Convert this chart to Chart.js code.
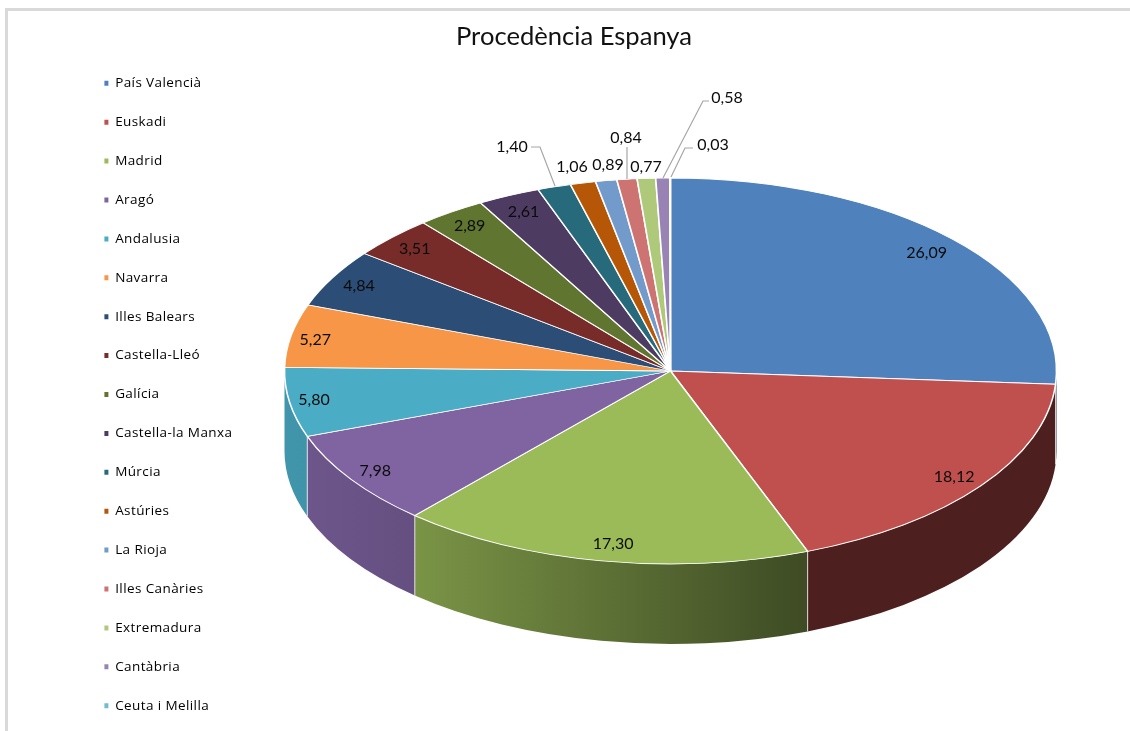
<!DOCTYPE html>
<html><head><meta charset="utf-8">
<style>
html,body{margin:0;padding:0;background:#fff;overflow:hidden}
#wrap{position:absolute;left:0;top:0;width:1130px;height:731px}
#frame{position:absolute;left:5px;top:8px;width:1125px;height:723px;border-top:3px solid #d9d9d9;border-left:3px solid #d9d9d9;box-sizing:border-box;pointer-events:none}
</style>
<script src="https://cdn.jsdelivr.net/npm/chart.js@4"></script>
</head><body>
<div id="wrap"><canvas id="c" width="1130" height="731"></canvas><div id="frame"></div></div>
<script>
const categories = ["País Valencià","Euskadi","Madrid","Aragó","Andalusia","Navarra","Illes Balears","Castella-Lleó","Galícia","Castella-la Manxa","Múrcia","Astúries","La Rioja","Illes Canàries","Extremadura","Cantàbria","Ceuta i Melilla"];
const values = [26.09,18.12,17.30,7.98,5.80,5.27,4.84,3.51,2.89,2.61,1.40,1.06,0.89,0.84,0.77,0.58,0.03];
const colors = ["#4f81bd","#c0504d","#9bbb59","#8064a2","#4bacc6","#f79646","#2c4d75","#772c2a","#5f7530","#4d3b62","#276a7c","#b65708","#729aca","#cd7371","#afc97a","#9983b5","#6fbdd1"];
const titleText = "Procedència Espanya";
const FONT = "Lato";
const LEGEND_FONT = "'Open Sans'";

// Pseudo-3D projection of the library's pie
const PROJ = {cx:670.5, cy:371, rx:386, ry:193, depth:80};
// Outside labels: index -> label centre and optional leader line
const OUTSIDE = {
  10:{x:512,y:147,leader:[[531,147],[540,147],[555,186]]},
  11:{x:572,y:167},
  12:{x:608,y:165},
  13:{x:626,y:138,leader:[[627,147],[627,179]]},
  14:{x:646,y:167},
  15:{x:727,y:98,leader:[[709,101],[703,101],[663,178]]},
  16:{x:713,y:145,leader:[[693,148],[685,148],[671,177]]}
};
// Small pixel nudges of the inside labels
const NUDGE = {0:[-2,2],1:[0,1],2:[6,-1],3:[-3,1],4:[-8,0],5:[-8,1],6:[-2,0],7:[-1,0],9:[1,1]};

function shade(hex,f){
  const n=parseInt(hex.slice(1),16);
  return `rgb(${Math.round((n>>16&255)*f)},${Math.round((n>>8&255)*f)},${Math.round((n&255)*f)})`;
}
const SHADE_STOPS=[[285,.87],[415,.79],[807,.40],[1057,.40]];

const pie3d = {
  id:'pie3d',
  afterInit(chart){
    const lg=chart.legend, origDraw=lg.draw, origFit=lg.fit;
    // let the single legend column run to the foot of the page
    lg.fit=function(){ this.maxHeight=760; origFit.call(this); };
    lg.draw=function(){
      const c=chart.ctx; c.save(); c.letterSpacing='0.4px';
      lg.bottom=800;
      origDraw.apply(lg,arguments);
      c.restore();
    };
  },
  beforeDatasetsDraw(chart){
    const ctx=chart.ctx, arcs=chart.getDatasetMeta(0).data, P=PROJ;
    ctx.save();
    arcs.forEach((arc,i)=>{
      const a0=Math.max(arc.startAngle,0), a1=Math.min(arc.endAngle,Math.PI);
      if(a1<=a0) return;
      const g=ctx.createLinearGradient(285,0,1057,0);
      SHADE_STOPS.forEach(([x,f])=>g.addColorStop((x-285)/(1057-285),shade(colors[i],f)));
      ctx.beginPath();
      ctx.ellipse(P.cx,P.cy,P.rx,P.ry,0,a0,a1,false);
      ctx.ellipse(P.cx,P.cy+P.depth,P.rx,P.ry,0,a1,a0,true);
      ctx.closePath();
      ctx.fillStyle=g; ctx.fill();
    });
    ctx.strokeStyle='rgba(255,255,255,.75)'; ctx.lineWidth=1;
    arcs.forEach(arc=>{
      const a=arc.endAngle;
      if(a<=0||a>=Math.PI) return;
      const x=P.cx+P.rx*Math.cos(a), y=P.cy+P.ry*Math.sin(a);
      ctx.beginPath(); ctx.moveTo(x,y); ctx.lineTo(x,y+P.depth); ctx.stroke();
    });
    ctx.restore();
    const a=arcs[0], {x,y}=a.getProps(['x','y'],true), R=a.outerRadius;
    ctx.save();
    ctx.translate(P.cx,P.cy);
    ctx.scale(P.rx/R,P.ry/R);
    ctx.translate(-x,-y);
  },
  afterDatasetsDraw(chart){
    const ctx=chart.ctx, arcs=chart.getDatasetMeta(0).data, P=PROJ;
    ctx.restore();
    ctx.save();
    ctx.font=`16px ${FONT}`; ctx.textAlign='center'; ctx.textBaseline='middle'; ctx.fillStyle='#0b0b0b';
    arcs.forEach((arc,i)=>{
      const t=values[i].toFixed(2).replace('.',',');
      const o=OUTSIDE[i];
      if(o){
        if(o.leader){
          ctx.beginPath();
          o.leader.forEach(([lx,ly],k)=>k?ctx.lineTo(lx,ly):ctx.moveTo(lx,ly));
          ctx.strokeStyle='#a6a6a6'; ctx.lineWidth=1.2; ctx.stroke();
        }
        ctx.fillText(t,o.x,o.y);
      }else{
        const m=(arc.startAngle+arc.endAngle)/2, k=.915, n=NUDGE[i]||[0,0];
        ctx.fillText(t,P.cx+P.rx*k*Math.cos(m)+n[0],P.cy+P.ry*k*Math.sin(m)+n[1]);
      }
    });
    ctx.restore();
  }
};

new Chart(document.getElementById('c'),{
  type:'pie',
  data:{labels:categories,datasets:[{data:values,backgroundColor:colors,borderColor:'#ffffff',borderWidth:1.4,clip:false}]},
  options:{
    responsive:false,animation:false,events:[],
    layout:{padding:{left:79,top:21,right:61,bottom:0}},
    plugins:{
      title:{display:true,text:titleText,color:'#111',font:{family:FONT,size:25.6,weight:'normal',lineHeight:1.1},padding:{top:2,bottom:0}},
      tooltip:{enabled:false},
      legend:{position:'left',align:'start',fullSize:false,
        labels:{boxWidth:4,boxHeight:5,padding:25.4,color:'#222',font:{family:LEGEND_FONT,size:13.5},
          generateLabels(chart){
            return categories.map((c,i)=>({text:c,fillStyle:colors[i],strokeStyle:'transparent',lineWidth:0,index:i,hidden:false}));
          }}}
    }
  },
  plugins:[pie3d]
});
</script>
</body></html>
